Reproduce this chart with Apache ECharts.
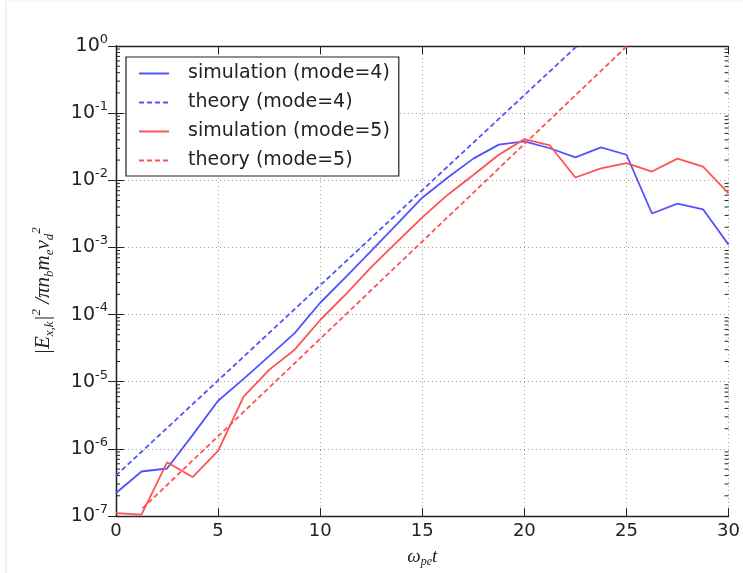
<!DOCTYPE html>
<html>
<head>
<meta charset="utf-8">
<script src="https://cdn.jsdelivr.net/npm/echarts@6/dist/echarts.min.js"></script>
<style>
  html, body { margin: 0; padding: 0; background: #fff; }
  #chart { width: 743px; height: 573px; }
</style>
</head>
<body>
<div id="chart"></div>
<script>
// time points of the simulation (omega_pe * t)
const tSim = [0, 1.25, 2.5, 3.75, 5, 6.25, 7.5, 8.75, 10, 11.25, 12.5, 13.75, 15,
              16.25, 17.5, 18.75, 20, 21.25, 22.5, 23.75, 25, 26.25, 27.5, 28.75, 30];

// |E_x,k|^2 for mode 4 and mode 5
const simMode4 = [2.2e-7, 4.6e-7, 5.1e-7, 1.6e-6, 5.2e-6, 1.1e-5, 2.4e-5, 5.3e-5, 1.5e-4, 3.6e-4,
                  8.9e-4, 2.2e-3, 5.5e-3, 1.1e-2, 2.1e-2, 3.4e-2, 3.8e-2, 3.0e-2, 2.2e-2, 3.1e-2,
                  2.4e-2, 3.2e-3, 4.5e-3, 3.7e-3, 1.1e-3];
const simMode5 = [1.1e-7, 1.05e-7, 6.3e-7, 3.8e-7, 9.3e-7, 6.0e-6, 1.5e-5, 3.0e-5, 8.3e-5, 2.0e-4,
                  5.1e-4, 1.2e-3, 2.8e-3, 6.1e-3, 1.2e-2, 2.4e-2, 4.1e-2, 3.3e-2, 1.1e-2, 1.5e-2,
                  1.8e-2, 1.35e-2, 2.1e-2, 1.6e-2, 6.4e-3];

// theory: straight lines in log space (start / end points)
const theoryMode4 = [[0, 4.0e-7], [22.58, 1]];
const theoryMode5 = [[1.3, 1.3e-7], [25.03, 1]];

const BLUE = '#5252ff';
const RED = '#ff5252';

// minor ticks on the log axis (2..9 in every decade)
const minorTicks = [];
for (let e = -7; e < 0; e++) {
    for (let m = 2; m <= 9; m++) minorTicks.push(m * Math.pow(10, e));
}

const chart = echarts.init(document.getElementById('chart'), null, { renderer: 'canvas' });

const tickFont = { fontFamily: 'DejaVu Sans', fontSize: 18, color: '#222' };
const mathFont = { fontFamily: 'Liberation Serif', fontStyle: 'italic', color: '#222' };

const pair = (ts, vs) => ts.map((t, i) => [t, vs[i]]);

const option = {
    backgroundColor: '#fff',
    animation: false,
    grid: { left: 116, right: 13, top: 46, bottom: 51 },
    graphic: [
        { type: 'line', shape: { x1: 6, y1: 1, x2: 6, y2: 573 }, style: { stroke: '#e4e4e4', lineWidth: 1 } },
        { type: 'line', shape: { x1: 6, y1: 1, x2: 743, y2: 1 }, style: { stroke: '#f0f0f0', lineWidth: 1 } }
    ],
    legend: {
        data: ['simulation (mode=4)', 'theory (mode=4)', 'simulation (mode=5)', 'theory (mode=5)'],
        orient: 'vertical',
        left: 126,
        top: 57,
        itemWidth: 30,
        itemHeight: 18,
        itemGap: 10,
        padding: [7, 9, 6, 12],
        borderColor: '#222',
        borderWidth: 1.2,
        borderRadius: 0,
        backgroundColor: '#fff',
        itemStyle: { opacity: 0 },
        textStyle: { ...tickFont, fontSize: 19, lineHeight: 18, padding: [0, 0, 0, 14] }
    },
    xAxis: [{
        type: 'value',
        min: 0, max: 30, interval: 5,
        name: '{w|ω}{sub|pe}{w|t}',
        nameLocation: 'middle',
        nameGap: 30,
        nameTextStyle: {
            rich: {
                w: { ...mathFont, fontSize: 19, lineHeight: 22, verticalAlign: 'middle' },
                sub: { ...mathFont, fontSize: 12, lineHeight: 10, verticalAlign: 'bottom' }
            }
        },
        axisLine: { show: true, lineStyle: { color: '#222', width: 1.3 } },
        axisTick: { show: true, inside: true, length: 8, lineStyle: { color: '#222' } },
        axisLabel: { ...tickFont, margin: 6 },
        splitLine: { show: true, lineStyle: { color: '#a0a0a0', type: [1, 3], width: 1 } }
    }, {
        type: 'value',
        position: 'top',
        min: 0, max: 30, interval: 5,
        axisLine: { show: true, lineStyle: { color: '#222', width: 1.3 } },
        axisTick: { show: true, inside: true, length: 8, lineStyle: { color: '#222' } },
        axisLabel: { show: false },
        splitLine: { show: false }
    }],
    yAxis: [{
        type: 'log',
        logBase: 10,
        min: 1e-7, max: 1,
        splitNumber: 7,
        name: '{a||E}{sub|x,k}{a||}{sup|2}{a| /πn}{sub|b}{a|m}{sub|e}{a|v}{sub|d}{sup|2}',
        nameLocation: 'middle',
        nameRotate: 90,
        nameGap: 60,
        nameTextStyle: {
            padding: [0, 0, 0, -20],
            rich: {
                a: { ...mathFont, fontSize: 21, lineHeight: 26, verticalAlign: 'middle' },
                sub: { ...mathFont, fontSize: 13, lineHeight: 13, verticalAlign: 'bottom' },
                sup: { ...mathFont, fontSize: 13, lineHeight: 13, verticalAlign: 'top' }
            }
        },
        axisLine: { show: true, lineStyle: { color: '#222', width: 1.3 } },
        axisTick: { show: true, inside: true, length: 8, lineStyle: { color: '#222' } },
        axisLabel: {
            margin: 8,
            formatter: v => '{b|10}{s|' + Math.round(Math.log10(v)) + '}',
            rich: {
                b: { ...tickFont, fontSize: 19, lineHeight: 26, verticalAlign: 'middle' },
                s: { ...tickFont, fontSize: 13, lineHeight: 14, verticalAlign: 'top' }
            }
        },
        splitLine: { show: true, lineStyle: { color: '#a0a0a0', type: [1, 3], width: 1 } }
    }, {
        type: 'log',
        logBase: 10,
        position: 'right',
        min: 1e-7, max: 1,
        splitNumber: 7,
        axisLine: { show: true, lineStyle: { color: '#222', width: 1.3 } },
        axisTick: { show: true, inside: true, length: 8, lineStyle: { color: '#222' } },
        axisLabel: { show: false },
        splitLine: { show: false }
    }],
    series: [
        {
            name: 'simulation (mode=4)', type: 'line', symbol: 'none',
            data: pair(tSim, simMode4),
            lineStyle: { color: BLUE, width: 1.8 }, itemStyle: { color: BLUE }
        },
        {
            name: 'theory (mode=4)', type: 'line', symbol: 'none',
            data: theoryMode4,
            lineStyle: { color: BLUE, width: 1.8, type: [5, 3] }, itemStyle: { color: BLUE }
        },
        {
            name: 'simulation (mode=5)', type: 'line', symbol: 'none',
            data: pair(tSim, simMode5),
            lineStyle: { color: RED, width: 1.8 }, itemStyle: { color: RED }
        },
        {
            name: 'theory (mode=5)', type: 'line', symbol: 'none',
            data: theoryMode5,
            lineStyle: { color: RED, width: 1.8, type: [5, 3] }, itemStyle: { color: RED }
        },
        {
            // minor ticks on the left and right frame
            type: 'custom',
            silent: true,
            data: minorTicks.map(v => [0, v]),
            renderItem: function (params, api) {
                const left = api.coord([0, api.value(1)]);
                const right = api.coord([30, api.value(1)]);
                const st = { stroke: '#222', lineWidth: 1 };
                return {
                    type: 'group',
                    children: [
                        { type: 'line', shape: { x1: left[0], y1: left[1], x2: left[0] + 4, y2: left[1] }, style: st },
                        { type: 'line', shape: { x1: right[0] - 4, y1: right[1], x2: right[0], y2: right[1] }, style: st }
                    ]
                };
            }
        }
    ]
};

chart.setOption(option);
</script>
</body>
</html>
